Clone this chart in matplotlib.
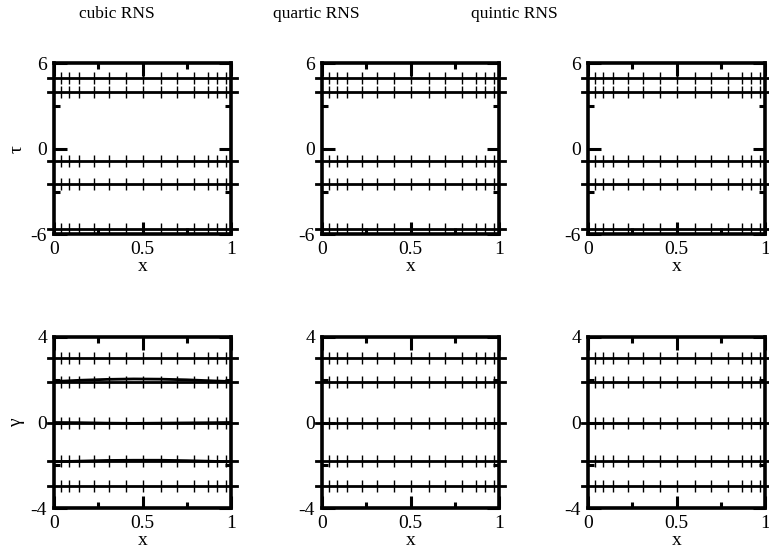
import matplotlib
matplotlib.use('Agg')
import matplotlib.pyplot as plt

plt.rcParams['font.family'] = ['Liberation Serif', 'DejaVu Serif']
plt.rcParams['axes.unicode_minus'] = False

# ---- data ----
schemes = ['cubic RNS', 'quartic RNS', 'quintic RNS']
x_nodes = [0.038, 0.087, 0.143, 0.226, 0.313, 0.407, 0.505,
           0.603, 0.697, 0.791, 0.872, 0.923, 0.972]
tau_levels = [5.0, 4.0, -0.85, -2.5, -5.65]
gamma_levels = [3.0, 1.91, 0.0, -1.81, -2.98]
# slightly curved branches visible only in the cubic gamma panel
cubic_curve_x = [0.0, 0.15, 0.3, 0.45, 0.6, 0.75, 0.9, 1.0]
cubic_curve_upper = [1.91, 1.97, 2.01, 2.03, 2.02, 1.99, 1.94, 1.91]
cubic_curve_lower = [-1.83, -1.80, -1.77, -1.76, -1.76, -1.78, -1.81, -1.83]
cubic_curve_zero = [0.0, -0.01, -0.03, -0.04, -0.03, -0.02, -0.01, 0.0]

tau_ticks = [-6, 0, 6]
tau_minor = [-3, 3]
gamma_ticks = [-4, 0, 4]
gamma_minor = [-2, 2]
x_ticks = [0, 0.5, 1]
x_ticklabels = ['0', '0.5', '1']
x_minor = [0.25, 0.75]

W, H = 769, 555
fig = plt.figure(figsize=(W / 100, H / 100), dpi=100)

lefts = [54, 322, 588]
axw = 177
rows = [(63.3, 234.3), (336.7, 508.3)]

title_x = [117, 316, 514]
for tx, name in zip(title_x, schemes):
    fig.text(tx / W, 1 - 14 / H, name, ha='center', va='center', fontsize=12.5)


def style_axis(ax, yticks, yminor, ylim):
    ax.set_xlim(0, 1)
    ax.set_ylim(*ylim)
    ax.set_xticks(x_ticks)
    ax.set_xticklabels(x_ticklabels)
    ax.set_xticks(x_minor, minor=True)
    ax.set_yticks(yticks)
    ax.set_yticklabels([str(t) for t in yticks])
    ax.set_yticks(yminor, minor=True)
    ax.tick_params(which='both', direction='in', top=True, right=True,
                   width=2.2, labelsize=14, pad=5)
    ax.tick_params(which='major', length=9)
    ax.tick_params(which='minor', length=4.5)
    for sp in ax.spines.values():
        sp.set_linewidth(2.6)
    ax.set_xlabel('x', fontsize=14, labelpad=0)


def draw_levels(ax, levels):
    for y in levels:
        ax.axhline(y, xmin=-0.035, xmax=1.035, color='black', lw=2.0,
                   clip_on=False, zorder=3)
        ax.plot(x_nodes, [y] * len(x_nodes), ls='none', marker='|',
                markersize=8.5, markeredgewidth=1.0, color='black', zorder=3)


for i in range(3):
    # top row: tau
    top, bot = rows[0]
    ax = fig.add_axes([lefts[i] / W, 1 - bot / H, axw / W, (bot - top) / H])
    draw_levels(ax, tau_levels)
    style_axis(ax, tau_ticks, tau_minor, (-6, 6))
    if i == 0:
        ax.set_ylabel('τ', fontsize=14, labelpad=4)

    # bottom row: gamma
    top, bot = rows[1]
    ax = fig.add_axes([lefts[i] / W, 1 - bot / H, axw / W, (bot - top) / H])
    draw_levels(ax, gamma_levels)
    if i == 0:
        for c in (cubic_curve_upper, cubic_curve_lower, cubic_curve_zero):
            ax.plot(cubic_curve_x, c, color='black', lw=2.0, zorder=3)
    style_axis(ax, gamma_ticks, gamma_minor, (-4, 4))
    if i == 0:
        ax.set_ylabel('γ', fontsize=14, labelpad=4)

fig.savefig('out.png', dpi=100)
